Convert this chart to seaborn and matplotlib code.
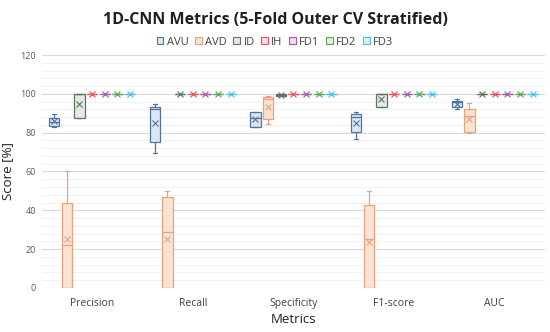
import pandas as pd
import matplotlib
matplotlib.use('Agg')
import matplotlib.pyplot as plt
from matplotlib.patches import Patch
from matplotlib.ticker import MultipleLocator
import seaborn as sns

# Datos (5 folds por clase y metrica)
metricas = ["Precision", "Recall", "Specificity", "F1-score", "AUC"]
clases = ["AVU", "AVD", "ID", "IH", "FD1", "FD2", "FD3"]

avu = [
    [82.9, 83.2, 85.5, 87.8, 89.6],
    [69.5, 75.2, 92.0, 93.2, 94.7],
    [82.9, 82.9, 87.5, 90.6, 90.6],
    [76.7, 80.3, 88.0, 89.6, 90.6],
    [92.0, 93.2, 95.8, 96.3, 97.3],
]
avd = [
    [0.0, 0.0, 22.0, 43.5, 60.0],
    [0.0, 0.0, 28.8, 46.8, 50.0],
    [84.5, 87.0, 97.3, 98.4, 98.9],
    [0.0, 0.0, 25.2, 42.7, 50.0],
    [79.8, 80.3, 88.6, 92.2, 95.3],
]
id_ = [
    [87.5, 87.5, 100.0, 100.0, 100.0],
    [100.0, 100.0, 100.0, 100.0, 100.0],
    [98.8, 99.0, 99.6, 100.0, 100.0],
    [93.0, 93.0, 100.0, 100.0, 100.0],
    [100.0, 100.0, 100.0, 100.0, 100.0],
]
perfecto = [[100.0] * 5 for _ in metricas]  # IH, FD1, FD2, FD3

puntajes = {"AVU": avu, "AVD": avd, "ID": id_,
            "IH": perfecto, "FD1": perfecto, "FD2": perfecto, "FD3": perfecto}

bordes = ["#52739f", "#e8a27e", "#5f7462", "#e8525e", "#a55aa8", "#5aa85f", "#4fbfe6"]
rellenos = ["#dce6f2", "#fbe3d4", "#e6e8e4", "#fbdcdf", "#f0dcf0", "#dcf0dc", "#d6f0fa"]

filas = []
for clase in clases:
    for metrica, valores in zip(metricas, puntajes[clase]):
        for v in valores:
            filas.append({"Metrica": metrica, "Clase": clase, "Score": v})
df = pd.DataFrame(filas)

sns.set_style("white")
plt.rcParams['font.family'] = ['Open Sans', 'DejaVu Sans']

fig = plt.figure(figsize=(5.5, 3.32), dpi=100)
ax = fig.add_axes([0.076, 0.133, 0.915, 0.701])

sns.boxplot(data=df, x="Metrica", y="Score", hue="Clase", order=metricas,
            hue_order=clases, palette=rellenos, width=0.88, gap=0.18,
            showmeans=True, linewidth=0.9, whis=10, legend=False, ax=ax,
            capwidths=0.04,
            meanprops=dict(marker="x", markersize=4, markeredgewidth=0.8))

# colorear cada clase con su borde
for cont, borde, relleno in zip(ax.containers, bordes, rellenos):
    for caja in cont.boxes:
        caja.set_edgecolor(borde)
        caja.set_facecolor(relleno)
    for linea in list(cont.whiskers) + list(cont.caps) + list(cont.medians):
        linea.set_color(borde)
    for m in cont.means:
        m.set_markeredgecolor(borde)
        m.set_markerfacecolor(borde)

ax.set_ylim(0, 120)
ax.yaxis.set_major_locator(MultipleLocator(20))
ax.yaxis.set_minor_locator(MultipleLocator(4))
ax.grid(axis="y", which="major", color="#d9d9d9", linewidth=0.8)
ax.grid(axis="y", which="minor", color="#f0f0f0", linewidth=0.6)
ax.set_axisbelow(True)
for s in ax.spines.values():
    s.set_visible(False)
ax.tick_params(axis="y", which="both", length=0, labelsize=6.5, labelcolor="#595959", pad=4)
ax.tick_params(axis="x", length=0, labelsize=7.5, labelcolor="#404040", pad=7)

ax.set_xlabel("Metrics", fontsize=9.5, color="#202020", labelpad=3)
ax.set_ylabel("Score [%]", fontsize=9.5, color="#202020")
ax.yaxis.set_label_coords(-0.056, 0.5)

fig.suptitle("1D-CNN Metrics (5-Fold Outer CV Stratified)", fontsize=11.5,
             fontweight="bold", y=0.965, color="#202020")

manejadores = [Patch(facecolor=r, edgecolor=b, linewidth=0.8, label=c)
               for c, b, r in zip(clases, bordes, rellenos)]
fig.legend(handles=manejadores, loc="center", bbox_to_anchor=(0.5, 0.873), ncol=7,
           frameon=False, fontsize=8, handlelength=0.6, handleheight=0.6,
           handletextpad=0.3, columnspacing=0.6, labelcolor="#404040")

plt.savefig("out.png", dpi=100)
plt.close()
